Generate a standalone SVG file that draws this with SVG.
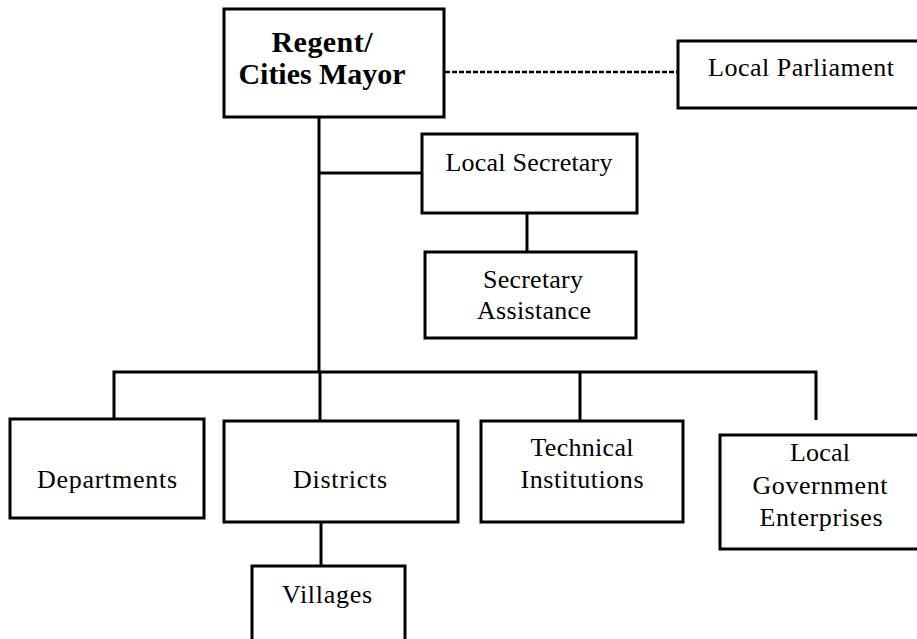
<svg xmlns="http://www.w3.org/2000/svg" width="917" height="639" viewBox="0 0 917 639">
<style>
.box{fill:#fff;stroke:#000;stroke-width:3}
.ln{fill:none;stroke:#000;stroke-width:3}
.dash{fill:none;stroke:#000;stroke-width:2.5;stroke-dasharray:5 2}
.t{font-family:'Liberation Serif','Times New Roman','DejaVu Serif',serif;font-size:26px;fill:#000;text-anchor:middle}
.b{font-weight:bold;font-size:30px}
</style>
<rect width="917" height="639" fill="#fff"/>
<g id="connectors">
<line class="dash" x1="445" y1="72" x2="678" y2="72"/>
<line class="ln" x1="319" y1="117" x2="319" y2="373"/>
<line class="ln" x1="319" y1="173" x2="422" y2="173"/>
<line class="ln" x1="527" y1="213" x2="527" y2="252"/>
<polyline class="ln" points="114,419 114,372 816,372 816,420"/>
<line class="ln" x1="320" y1="372" x2="320" y2="421"/>
<line class="ln" x1="580" y1="372" x2="580" y2="421"/>
<line class="ln" x1="321" y1="522" x2="321" y2="566"/>
</g>
<g id="regent"><rect class="box" x="224" y="9" width="220" height="108"/><text class="t b" x="322" y="52" textLength="101">Regent/</text><text class="t b" x="322" y="84" textLength="167">Cities Mayor</text></g>
<g id="parliament"><rect class="box" x="678" y="41" width="245" height="67"/><text class="t" x="801" y="76" textLength="186">Local Parliament</text></g>
<g id="secretary"><rect class="box" x="422" y="134" width="215" height="79"/><text class="t" x="529" y="171" textLength="167">Local Secretary</text></g>
<g id="assistance"><rect class="box" x="425" y="252" width="211" height="86"/><text class="t" x="533" y="288" textLength="100">Secretary</text><text class="t" x="534" y="319" textLength="114">Assistance</text></g>
<g id="departments"><rect class="box" x="10" y="419" width="194" height="99"/><text class="t" x="107" y="488" textLength="140">Departments</text></g>
<g id="districts"><rect class="box" x="224" y="421" width="234" height="101"/><text class="t" x="340" y="488" textLength="94">Districts</text></g>
<g id="villages"><rect class="box" x="252" y="566" width="153" height="80"/><text class="t" x="327" y="603" textLength="90">Villages</text></g>
<g id="technical"><rect class="box" x="481" y="421" width="202" height="101"/><text class="t" x="582" y="456" textLength="103">Technical</text><text class="t" x="582" y="488" textLength="123">Institutions</text></g>
<g id="enterprises"><rect class="box" x="720" y="435" width="205" height="114"/><text class="t" x="820" y="461" textLength="60">Local</text><text class="t" x="820" y="494" textLength="135">Government</text><text class="t" x="821" y="526" textLength="123">Enterprises</text></g>
</svg>
